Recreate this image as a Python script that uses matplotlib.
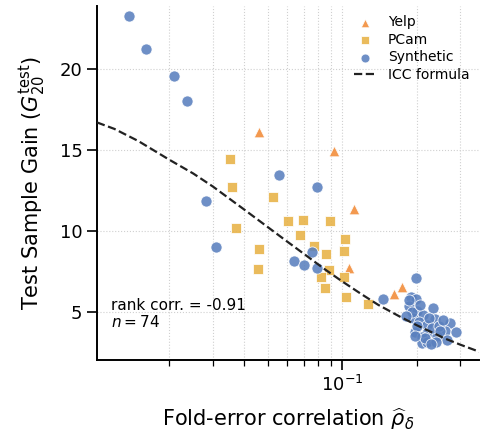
import matplotlib.pyplot as plt
from matplotlib.ticker import NullFormatter, LogLocator

# ---------------------------------------------------------------
# data
# ---------------------------------------------------------------
yelp_rho = [0.0461, 0.0931, 0.1121, 0.1070, 0.1625, 0.1746]
yelp_gain = [16.09, 14.96, 11.34, 7.73, 6.11, 6.52]

pcam_rho = [0.0351, 0.0359, 0.0525, 0.0605, 0.0374, 0.0460, 0.0458,
            0.0698, 0.0895, 0.0673, 0.0773, 0.1031, 0.1022, 0.0862,
            0.0883, 0.0823, 0.0854, 0.1015, 0.1038, 0.1268]
pcam_gain = [14.44, 12.72, 12.08, 10.60, 10.20, 8.89, 7.65,
             10.66, 10.62, 9.75, 9.09, 9.49, 8.78, 8.56,
             7.59, 7.18, 6.50, 7.14, 5.94, 5.49]

synth_rho = [0.0137, 0.0161, 0.0209, 0.0237, 0.0558, 0.0282, 0.0310,
             0.0792, 0.0638, 0.0700, 0.0757, 0.0792,
             0.1999, 0.1897, 0.1999, 0.1863, 0.2017, 0.2340, 0.2133,
             0.1944, 0.2377, 0.2050, 0.2214, 0.2733, 0.2602, 0.2882,
             0.1970, 0.2202, 0.2429, 0.2113, 0.2651, 0.2113, 0.2214,
             0.2393, 0.1463, 0.1922, 0.2069, 0.2248, 0.2012, 0.2313,
             0.2467, 0.2166, 0.2292, 0.2487, 0.1817, 0.1975, 0.2557,
             0.1870]
synth_gain = [23.27, 21.23, 19.57, 18.00, 13.46, 11.85, 9.03,
              12.70, 8.15, 7.90, 8.72, 7.70,
              7.08, 5.91, 5.82, 5.39, 5.08, 5.23, 4.81,
              4.61, 4.55, 4.40, 4.20, 4.34, 3.85, 3.77,
              3.78, 3.69, 3.52, 3.48, 3.27, 3.07, 3.17,
              3.17, 5.80, 5.00, 5.43, 4.63, 4.14, 4.01,
              4.14, 3.40, 3.02, 3.83, 4.75, 3.52, 4.51,
              5.74]

icc_rho = [0.0102, 0.012, 0.015, 0.02, 0.025, 0.03, 0.04, 0.05, 0.06,
           0.07, 0.085, 0.1, 0.12, 0.14, 0.17, 0.2, 0.26, 0.3, 0.36]
icc_gain = [16.7, 16.3, 15.55, 14.4, 13.55, 12.75, 11.35, 10.25, 9.35,
            8.6, 7.65, 6.9, 6.1, 5.45, 4.75, 4.2, 3.38, 3.0, 2.55]

# ---------------------------------------------------------------
# plot
# ---------------------------------------------------------------
fig = plt.figure(figsize=(4.8, 4.36), dpi=100)
ax = fig.add_axes([0.202, 0.174, 0.796, 0.813])

ax.scatter(yelp_rho, yelp_gain, marker='^', s=58, color='#f28e3c', alpha=0.9,
           edgecolor='white', linewidth=0.6, label='Yelp', zorder=3)
ax.scatter(pcam_rho, pcam_gain, marker='s', s=60, color='#e8b44a', alpha=0.9,
           edgecolor='white', linewidth=0.6, label='PCam', zorder=3)
ax.scatter(synth_rho, synth_gain, marker='o', s=64, color='#5a80be', alpha=0.88,
           edgecolor='white', linewidth=0.6, label='Synthetic', zorder=3)
ax.plot(icc_rho, icc_gain, linestyle='--', color='#222222', linewidth=1.6,
        label='ICC formula', zorder=4)

ax.set_xscale('log')
ax.set_xlim(0.0102, 0.358)
ax.set_ylim(2.04, 23.9)
ax.set_yticks([5, 10, 15, 20])
ax.xaxis.set_minor_locator(LogLocator(base=10, subs=range(2, 10)))
ax.xaxis.set_minor_formatter(NullFormatter())

ax.grid(True, which='both', axis='x', linestyle=':', color='#d0d0d0', linewidth=0.8)
ax.grid(True, which='major', axis='y', linestyle=':', color='#d0d0d0', linewidth=0.8)
ax.set_axisbelow(True)

for side in ['top', 'right']:
    ax.spines[side].set_visible(False)
ax.spines['left'].set_linewidth(1.4)
ax.spines['bottom'].set_linewidth(1.4)
ax.tick_params(axis='both', which='major', labelsize=13, length=7, width=1.2)
ax.tick_params(axis='x', which='minor', length=4, width=0.9)

ax.set_xlabel(r'Fold-error correlation $\widehat{\rho}_\delta$', fontsize=15, labelpad=8)
ax.set_ylabel(r'Test Sample Gain ($G_{20}^{\mathrm{test}}$)', fontsize=15, labelpad=8)

ax.text(0.037, 0.085, 'rank corr. = -0.91\n$n = 74$', transform=ax.transAxes,
        fontsize=11, va='bottom', ha='left', linespacing=1.1)

ax.legend(loc='upper right', bbox_to_anchor=(1.0, 1.0), frameon=False,
          fontsize=10, markerscale=0.8, handlelength=1.6,
          labelspacing=0.25, borderaxespad=0.3)

plt.savefig('out.png', dpi=100)
